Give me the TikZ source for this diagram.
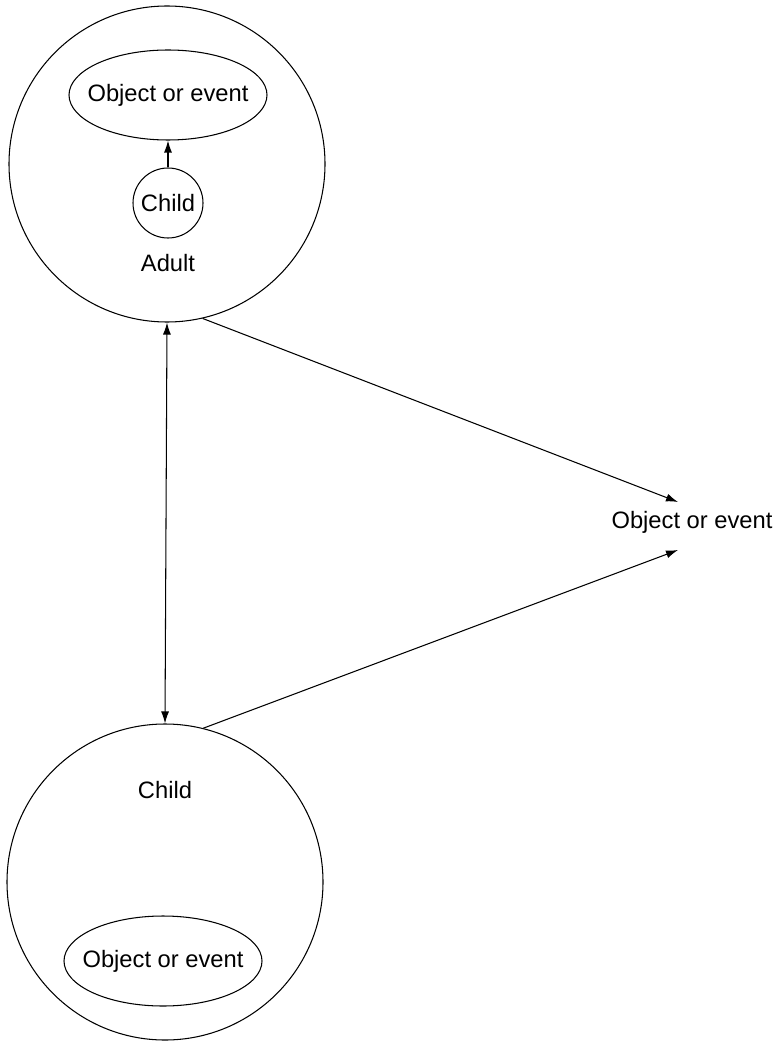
\documentclass[tikz,border=0pt]{standalone}
\usepackage{fontspec}
\setmainfont{Liberation Sans}
\usetikzlibrary{positioning,shapes.geometric,arrows.meta}

\begin{document}
\begin{tikzpicture}[
    >={Latex[length=2.4mm,width=1.6mm]},
    every node/.style={font=\fontsize{13.5}{16}\selectfont},
    ring/.style={draw, circle, line width=0.6pt, inner sep=1pt},
    oval/.style={draw, ellipse, line width=0.6pt, minimum width=3.96cm, minimum height=1.8cm},
    arr/.style={line width=0.6pt}
  ]
  \useasboundingbox (0,0) rectangle (15.56,-20.82);

  \node[ring, minimum size=6.32cm] (a1) at (3.34,-3.28) {};
  \node[oval] (a2) at (3.36,-1.9) {\makebox[0pt]{Object or event}};
  \node[ring, minimum size=1.4cm] (a3) at (3.36,-4.06) {Child};
  \node[below=0.9cm of a3.center] (a4) {Adult};

  \node[ring, minimum size=6.32cm] (b1) at (3.30,-17.64) {};
  \node (b2) at (3.30,-15.8) {Child};
  \node[oval] (b3) at (3.26,-19.22) {\makebox[0pt]{Object or event}};

  \node (c1) at (13.84,-10.44) {Object or event};
  \coordinate (c2) at (13.56,-10.04);
  \coordinate (c3) at (13.56,-11.0);

  \draw[arr, ->] (a3) -- (a2);
  \draw[arr, <->] (a1.south) -- (b1.north);
  \draw[arr, ->] (a1.-77) -- (c2);
  \draw[arr, ->] (b1.76) -- (c3);

\end{tikzpicture}
\end{document}
